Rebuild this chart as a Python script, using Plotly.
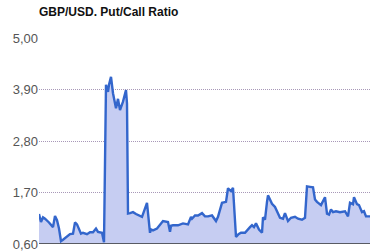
import plotly.graph_objects as go

# time index (days) and put/call ratio readings
day = [0, 2, 4, 6, 10, 14, 16, 18, 20, 22, 24, 28, 31, 34, 36, 38, 42, 44, 48, 51, 54, 57, 59, 63, 65,
       67, 69, 70, 72, 74, 77, 79, 81, 84, 87, 88, 89, 91, 94, 97, 103, 108, 110, 111, 112, 114, 118,
       120, 124, 129, 131, 132, 134, 139, 144, 149, 152, 153, 156, 159, 163, 166, 169, 173, 177, 179,
       183, 187, 189, 192, 194, 197, 199, 199.5, 202, 206, 211, 213, 215, 217, 220, 223, 224, 226, 228,
       229, 233, 236, 241, 244, 246, 249, 252, 256, 259, 263, 266, 268, 271, 274, 276, 278, 282, 286,
       288, 290, 292, 294, 297, 301, 306, 309, 311, 314, 315, 318, 320, 323, 325, 327, 329, 331]
ratio = [1.24, 1.07, 1.17, 1.14, 1.06, 0.96, 1.20, 1.11, 0.93, 0.66, 0.69, 0.75, 0.81, 0.82, 1.06,
         1.02, 0.82, 0.84, 0.81, 0.85, 0.85, 0.93, 0.86, 0.84, 0.64, 4.00, 3.85, 4.00, 4.17, 3.82, 3.50,
         3.70, 3.46, 3.64, 3.89, 3.60, 1.25, 1.26, 1.28, 1.24, 1.18, 1.48, 1.04, 0.84, 0.91, 0.89, 0.93,
         0.99, 1.09, 1.07, 0.86, 0.99, 1.00, 1.00, 1.04, 1.02, 1.18, 1.14, 1.21, 1.21, 1.26, 1.19, 1.19,
         1.21, 1.09, 1.18, 1.48, 1.50, 1.79, 1.73, 1.80, 0.75, 0.81, 0.81, 0.84, 0.84, 0.96, 1.00, 0.96,
         1.04, 0.91, 0.84, 1.17, 1.12, 1.50, 1.64, 1.46, 1.39, 1.16, 1.14, 1.26, 1.09, 1.16, 1.18, 1.14,
         1.12, 1.16, 1.83, 1.82, 1.81, 1.55, 1.50, 1.43, 1.60, 1.25, 1.23, 1.34, 1.28, 1.30, 1.28, 1.30,
         1.19, 1.48, 1.45, 1.60, 1.45, 1.43, 1.28, 1.30, 1.19, 1.19, 1.19]
tick_vals = [0.6, 1.7, 2.8, 3.9, 5.0]
tick_text = ["0,60", "1,70", "2,80", "3,90", "5,00"]

n = min(len(day), len(ratio))
day, ratio = day[:n], ratio[:n]

fig = go.Figure()
fig.add_trace(go.Scatter(
    x=day, y=ratio, mode="lines",
    line=dict(color="#3366cc", width=2.4),
    fill="tozeroy", fillcolor="rgba(198,205,242,1)",
    hoverinfo="skip",
))

fig.update_layout(
    width=376, height=252,
    margin=dict(l=39, r=6, t=38, b=8, pad=0, autoexpand=False),
    paper_bgcolor="white", plot_bgcolor="white",
    showlegend=False,
    title=dict(text="<b>GBP/USD. Put/Call Ratio</b>", x=39/376, xanchor="left", y=1 - 12/252, yanchor="middle",
               font=dict(family="Liberation Sans, Arial", size=12, color="#111"), automargin=False),
)
fig.update_xaxes(range=[0, 331], showgrid=False, showticklabels=False, zeroline=False,
                 showline=False, ticks="", automargin=False)
fig.update_yaxes(range=[0.6, 5.0], tickvals=tick_vals, ticktext=tick_text, automargin=False,
                 showgrid=True, gridcolor="#a898b8", griddash="1px,1px", gridwidth=1,
                 zeroline=False, showline=False, ticks="",
                 tickfont=dict(family="Liberation Sans, Arial", size=13, color="#555"))
fig.add_shape(type="line", xref="paper", yref="y", x0=0, x1=1, y0=0.6, y1=0.6,
              line=dict(color="#333", width=1.5))

fig.write_html("out.html")
